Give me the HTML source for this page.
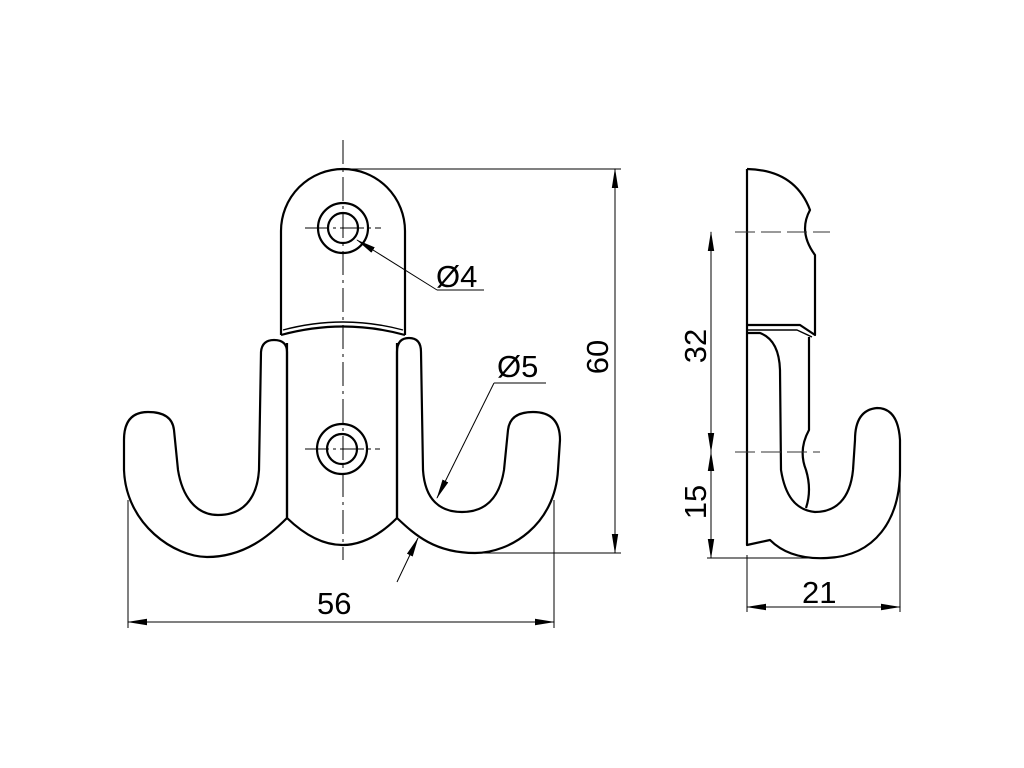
<!DOCTYPE html>
<html><head><meta charset="utf-8"><style>
html,body{margin:0;padding:0;background:#fff}
svg{display:block}
text{font-family:"Liberation Sans",Arial,sans-serif;font-size:31px;fill:#000}
</style></head><body>
<svg width="1024" height="768" viewBox="0 0 1024 768" xmlns="http://www.w3.org/2000/svg">
<defs>
<marker id="a" markerWidth="20" markerHeight="8" refX="19" refY="4" orient="auto" markerUnits="userSpaceOnUse">
<path d="M0,0.8 L20,4 L0,7.2 z" fill="#000"/></marker>
</defs>
<g fill="none" stroke="#000" stroke-width="2.2" stroke-linejoin="round">
<!-- top plate -->
<path d="M281,335 L281,231 A62,62 0 0 1 405,231 L405,335"/>
<path d="M281,335 Q343,318 405,335"/>
<path d="M283,330 Q343,314 403,330" stroke-width="1.4"/>
<circle cx="343" cy="228" r="25"/><circle cx="343" cy="228" r="15"/>
<!-- body -->
<path d="M287,343 L287,518 Q343,572 397,518 L397,343"/>
<circle cx="342" cy="449" r="25"/><circle cx="342" cy="449" r="15"/>
<!-- left hook -->
<path d="M287,518 L287,352 Q287,340 274,340 Q262,340 261,352 L259,470 C257,500 242,515 218,515 C195,515 182,495 178,470 L174,430 Q172,412 148,412 Q124,412 124,440 L124,470 C126,525 175,557 207,557 C245,557 270,535 287,518"/>
<!-- right hook -->
<path d="M397,518 L397,352 Q397,338 409,338 Q421,338 421,352 L423,470 C425,500 440,512 462,512 C488,512 500,495 504,470 L508,430 Q510,412 533,412 Q560,412 560,440 L558,470 C555,525 510,553 475,553 C435,553 415,535 397,518"/>
<!-- side view -->
<path d="M747,169 L747,545 L770,540 Q790,560 827,558 C875,556 900,520 900,470 L900,440 Q898,408 877,408 Q855,410 855,440 L853,470 C850,500 835,512 815,512 C795,510 785,495 781,470 L780,370 Q779,340 760,333 L747,333"/>
<path d="M747,169 Q795,170 810,210 Q798,232 815,255 L815,335 L800,325 L747,325"/>
<path d="M747,330 L797,330 L812,337" stroke-width="1.4"/>
<path d="M809,337 L809,430 Q798,450 806,470 Q812,490 806,508"/>
</g>
<g fill="none" stroke="#000" stroke-width="1">
<path d="M343,140 L343,560" stroke-dasharray="24,5,3,5"/>
<path d="M305,228 L381,228 M305,449 L380,449" stroke-dasharray="24,4,3,4"/>
<path d="M735,232 L830,232 M735,452 L820,452" stroke-dasharray="20,6" stroke="#333"/>
<!-- 60 -->
<path d="M343,169 L621,169 M470,553 L621,553"/>
<path d="M615,195 L615,169" marker-end="url(#a)"/><path d="M615,525 L615,553" marker-end="url(#a)"/>
<path d="M615,175 L615,548"/>
<!-- 56 -->
<path d="M128,500 L128,628 M554,500 L554,628"/>
<path d="M155,622 L128,622" marker-end="url(#a)"/><path d="M527,622 L554,622" marker-end="url(#a)"/>
<path d="M135,622 L548,622"/>
<!-- Ø4 -->
<path d="M437,290 L357,240" marker-end="url(#a)"/><path d="M437,290 L484,290"/>
<!-- Ø5 -->
<path d="M494,383 L437,498" marker-end="url(#a)"/><path d="M494,383 L546,383"/>
<path d="M397,582 L418,538" marker-end="url(#a)"/>
<!-- 32 / 15 -->
<path d="M711,232 L711,558"/>
<path d="M711,258 L711,232" marker-end="url(#a)"/><path d="M711,426 L711,452" marker-end="url(#a)"/>
<path d="M711,478 L711,452" marker-end="url(#a)"/><path d="M711,532 L711,558" marker-end="url(#a)"/>
<path d="M707,558 L810,558"/>
<!-- 21 -->
<path d="M747,555 L747,612 M900,470 L900,612"/>
<path d="M773,607 L747,607" marker-end="url(#a)"/><path d="M874,607 L900,607" marker-end="url(#a)"/>
<path d="M752,607 L895,607"/>
</g>
<text x="436" y="287">Ø4</text>
<text x="497" y="377">Ø5</text>
<text x="317" y="614">56</text>
<text x="802" y="603">21</text>
<text transform="translate(608,357) rotate(-90)" text-anchor="middle">60</text>
<text transform="translate(706,346) rotate(-90)" text-anchor="middle">32</text>
<text transform="translate(706,502) rotate(-90)" text-anchor="middle">15</text>
</svg>
</body></html>
